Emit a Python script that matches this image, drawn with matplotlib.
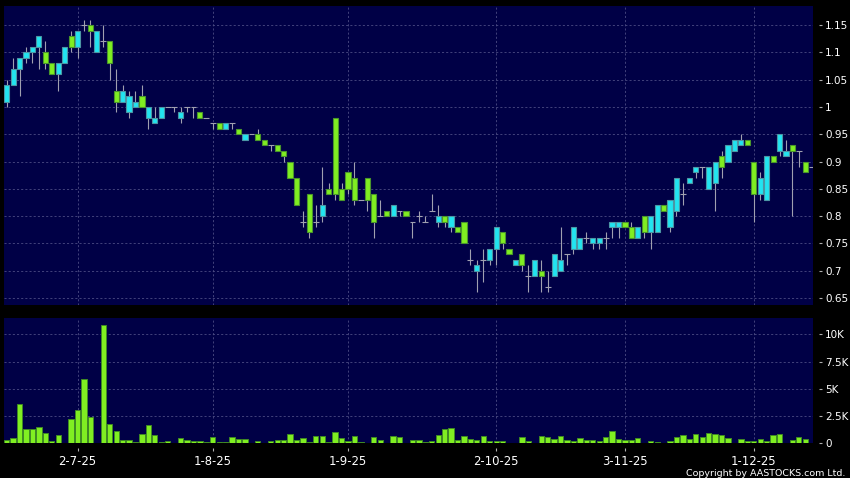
import matplotlib
matplotlib.use("Agg")
import matplotlib.pyplot as plt
import numpy as np

# daily OHLC (one entry per trading day)
opens = [1.01, 1.04, 1.07, 1.09, 1.10, 1.11, 1.10, 1.08, 1.06, 1.08,
         1.13, 1.11, 1.15, 1.15, 1.10, 1.12, 1.12, 1.03, 1.01, 0.99,
         1.00, 1.02, 0.98, 0.97, 0.98, 1.00, 1.00, 0.98, 1.00, 1.00,
         0.99, 0.98, 0.97, 0.97, 0.96, 0.97, 0.96, 0.94, 0.95, 0.95,
         0.94, 0.93, 0.93, 0.92, 0.90, 0.87, 0.79, 0.84, 0.79, 0.80,
         0.85, 0.98, 0.85, 0.88, 0.87, 0.83, 0.87, 0.84, 0.80, 0.81,
         0.80, 0.81, 0.81, 0.79, 0.80, 0.79, 0.81, 0.79, 0.80, 0.78,
         0.78, 0.79, 0.72, 0.70, 0.72, 0.72, 0.74, 0.77, 0.74, 0.71,
         0.73, 0.69, 0.69, 0.70, 0.67, 0.69, 0.70, 0.73, 0.74, 0.74,
         0.76, 0.75, 0.75, 0.76, 0.78, 0.78, 0.79, 0.78, 0.76, 0.80,
         0.77, 0.77, 0.82, 0.78, 0.81, 0.84, 0.86, 0.88, 0.89, 0.85,
         0.86, 0.91, 0.90, 0.92, 0.93, 0.94, 0.90, 0.84, 0.83, 0.91,
         0.92, 0.91, 0.93, 0.92, 0.90, 0.89]
highs = [1.05, 1.09, 1.09, 1.11, 1.11, 1.13, 1.12, 1.08, 1.08, 1.11,
         1.14, 1.14, 1.16, 1.16, 1.14, 1.15, 1.12, 1.07, 1.04, 1.03,
         1.03, 1.04, 1.00, 1.00, 1.00, 1.00, 1.00, 1.00, 1.00, 1.00,
         0.99, 0.98, 0.97, 0.97, 0.97, 0.97, 0.96, 0.95, 0.95, 0.96,
         0.94, 0.93, 0.93, 0.92, 0.90, 0.87, 0.81, 0.84, 0.82, 0.89,
         0.86, 0.98, 0.86, 0.88, 0.90, 0.83, 0.87, 0.84, 0.83, 0.81,
         0.82, 0.81, 0.81, 0.79, 0.81, 0.80, 0.84, 0.82, 0.80, 0.80,
         0.78, 0.79, 0.74, 0.72, 0.74, 0.74, 0.78, 0.77, 0.74, 0.72,
         0.73, 0.71, 0.72, 0.72, 0.70, 0.73, 0.78, 0.73, 0.78, 0.76,
         0.77, 0.76, 0.76, 0.77, 0.79, 0.79, 0.79, 0.79, 0.78, 0.80,
         0.80, 0.82, 0.82, 0.83, 0.87, 0.86, 0.87, 0.89, 0.89, 0.89,
         0.90, 0.92, 0.93, 0.94, 0.95, 0.94, 0.90, 0.88, 0.91, 0.91,
         0.95, 0.94, 0.93, 0.92, 0.90, 0.89]
lows = [1.00, 1.04, 1.02, 1.08, 1.08, 1.07, 1.07, 1.06, 1.03, 1.08,
        1.10, 1.09, 1.14, 1.11, 1.10, 1.11, 1.05, 0.99, 1.01, 0.98,
        1.00, 1.00, 0.96, 0.97, 0.98, 1.00, 0.99, 0.97, 0.99, 0.98,
        0.98, 0.98, 0.96, 0.96, 0.96, 0.96, 0.95, 0.94, 0.95, 0.94,
        0.93, 0.92, 0.92, 0.90, 0.87, 0.82, 0.78, 0.76, 0.78, 0.79,
        0.84, 0.83, 0.83, 0.84, 0.82, 0.83, 0.81, 0.76, 0.80, 0.80,
        0.80, 0.80, 0.80, 0.76, 0.79, 0.79, 0.81, 0.78, 0.78, 0.77,
        0.77, 0.75, 0.71, 0.66, 0.68, 0.71, 0.71, 0.74, 0.73, 0.71,
        0.70, 0.66, 0.69, 0.66, 0.66, 0.69, 0.70, 0.71, 0.73, 0.74,
        0.75, 0.74, 0.74, 0.74, 0.76, 0.76, 0.78, 0.76, 0.76, 0.76,
        0.74, 0.77, 0.81, 0.77, 0.80, 0.82, 0.86, 0.87, 0.87, 0.85,
        0.81, 0.87, 0.90, 0.92, 0.93, 0.93, 0.79, 0.83, 0.83, 0.90,
        0.91, 0.91, 0.80, 0.89, 0.88, 0.89]
closes = [1.04, 1.07, 1.09, 1.10, 1.11, 1.13, 1.08, 1.06, 1.08, 1.11,
          1.11, 1.14, 1.15, 1.14, 1.14, 1.12, 1.08, 1.01, 1.03, 1.02,
          1.01, 1.00, 1.00, 0.98, 1.00, 1.00, 1.00, 0.99, 1.00, 1.00,
          0.98, 0.98, 0.97, 0.96, 0.97, 0.97, 0.95, 0.95, 0.95, 0.94,
          0.93, 0.93, 0.92, 0.91, 0.87, 0.82, 0.79, 0.77, 0.79, 0.82,
          0.84, 0.84, 0.83, 0.85, 0.83, 0.83, 0.83, 0.79, 0.80, 0.80,
          0.82, 0.81, 0.80, 0.79, 0.80, 0.79, 0.81, 0.80, 0.79, 0.80,
          0.77, 0.75, 0.72, 0.71, 0.72, 0.74, 0.78, 0.75, 0.73, 0.72,
          0.71, 0.69, 0.72, 0.69, 0.67, 0.73, 0.72, 0.73, 0.78, 0.76,
          0.76, 0.76, 0.76, 0.76, 0.79, 0.79, 0.78, 0.76, 0.78, 0.77,
          0.80, 0.82, 0.81, 0.83, 0.87, 0.84, 0.87, 0.89, 0.89, 0.89,
          0.90, 0.89, 0.93, 0.94, 0.94, 0.93, 0.84, 0.87, 0.91, 0.90,
          0.95, 0.92, 0.92, 0.92, 0.88, 0.89]
# volume in thousands of shares
volume_k = [0.3, 0.5, 3.6, 1.3, 1.3, 1.5, 0.95, 0.25, 0.75, 0.08,
            2.2, 3.05, 5.9, 2.45, 0.08, 10.85, 1.8, 1.1, 0.3, 0.3,
            0.1, 0.9, 1.7, 0.75, 0.1, 0.2, 0.0, 0.5, 0.3, 0.2,
            0.2, 0.1, 0.55, 0.1, 0.1, 0.55, 0.45, 0.4, 0.0, 0.25,
            0.0, 0.25, 0.3, 0.3, 0.9, 0.35, 0.5, 0.1, 0.67, 0.67,
            0.15, 1.05, 0.5, 0.2, 0.65, 0.1, 0.08, 0.6, 0.3, 0.05,
            0.67, 0.6, 0.0, 0.3, 0.3, 0.1, 0.2, 0.75, 1.3, 1.45,
            0.35, 0.7, 0.4, 0.3, 0.7, 0.2, 0.2, 0.2, 0.0, 0.05,
            0.6, 0.25, 0.05, 0.67, 0.55, 0.4, 0.7, 0.3, 0.2, 0.5,
            0.3, 0.3, 0.25, 0.6, 1.1, 0.45, 0.3, 0.3, 0.5, 0.05,
            0.25, 0.15, 0.05, 0.2, 0.6, 0.75, 0.45, 0.9, 0.6, 1.0,
            0.9, 0.75, 0.5, 0.05, 0.4, 0.25, 0.25, 0.45, 0.2, 0.75,
            0.85, 0.05, 0.3, 0.55, 0.45, 0.05]

tick_pos = [11, 32, 53, 76, 96, 116]
tick_labels = ["2-7-25", "1-8-25", "1-9-25", "2-10-25", "3-11-25", "1-12-25"]
price_ticks = [0.65, 0.7, 0.75, 0.8, 0.85, 0.9, 0.95, 1.0, 1.05, 1.1, 1.15]
vol_ticks = [0, 2.5, 5, 7.5, 10]
vol_labels = ["0", "2.5K", "5K", "7.5K", "10K"]

NAVY = "#000046"
CYAN = "#22e4f0"
LIME = "#80ee22"
GRID = "#4c4c84"
WICK = "#a0a0b0"

o = np.array(opens)
h = np.array(highs)
l = np.array(lows)
c = np.array(closes)
x = np.arange(len(o))
up = c > o
down = c < o
flat = c == o

fig = plt.figure(figsize=(8.5, 4.78), dpi=100, facecolor="black")
ax = fig.add_axes([0.00506, 0.3619, 0.9518, 0.6255])
axv = fig.add_axes([0.00506, 0.0722, 0.9518, 0.2625])

# candles
ax.vlines(x, l, h, color=WICK, lw=0.8, zorder=2)
ax.bar(x[up], (c - o)[up], bottom=o[up], width=0.8, color=CYAN,
       edgecolor="#4c96a4", lw=0.8, zorder=3)
ax.bar(x[down], (o - c)[down], bottom=c[down], width=0.8, color=LIME,
       edgecolor="#4a962c", lw=0.8, zorder=3)
ax.hlines(c[flat], x[flat] - 0.45, x[flat] + 0.45, color=WICK, lw=0.8, zorder=3)

# volume
axv.bar(x, volume_k, width=0.82, color=LIME, edgecolor="#3f8a24", lw=0.7, zorder=3)

for a in (ax, axv):
    a.set_facecolor(NAVY)
    a.set_xlim(-0.37, 125.25)
    a.set_xticks(tick_pos)
    a.grid(True, color=GRID, ls=(0, (2.5, 2.5)), lw=0.6, zorder=1)
    for s in a.spines.values():
        s.set_visible(False)
    a.yaxis.tick_right()
    a.spines["right"].set_position(("outward", 4))
    a.tick_params(axis="y", colors="#b0b0b0", labelcolor="white",
                  length=2.5, width=0.8, labelsize=7.5, pad=2)

ax.set_ylim(0.637, 1.185)
ax.set_yticks(price_ticks)
ax.set_yticklabels([f"{t:g}" for t in price_ticks])
ax.tick_params(axis="x", length=0, labelbottom=False)

axv.set_ylim(0, 11.5)
axv.set_yticks(vol_ticks)
axv.set_yticklabels(vol_labels)
axv.spines["bottom"].set_position(("outward", 3))
axv.set_xticklabels(tick_labels)
axv.tick_params(axis="x", colors="#b0b0b0", labelcolor="white",
                length=2.5, width=0.8, labelsize=8.4, pad=3)

fig.text(0.995, 0.001, "Copyright by AASTOCKS.com Ltd.", ha="right", va="bottom",
         color="white", fontsize=6.8)

fig.savefig("out.png", dpi=100, facecolor="black")
